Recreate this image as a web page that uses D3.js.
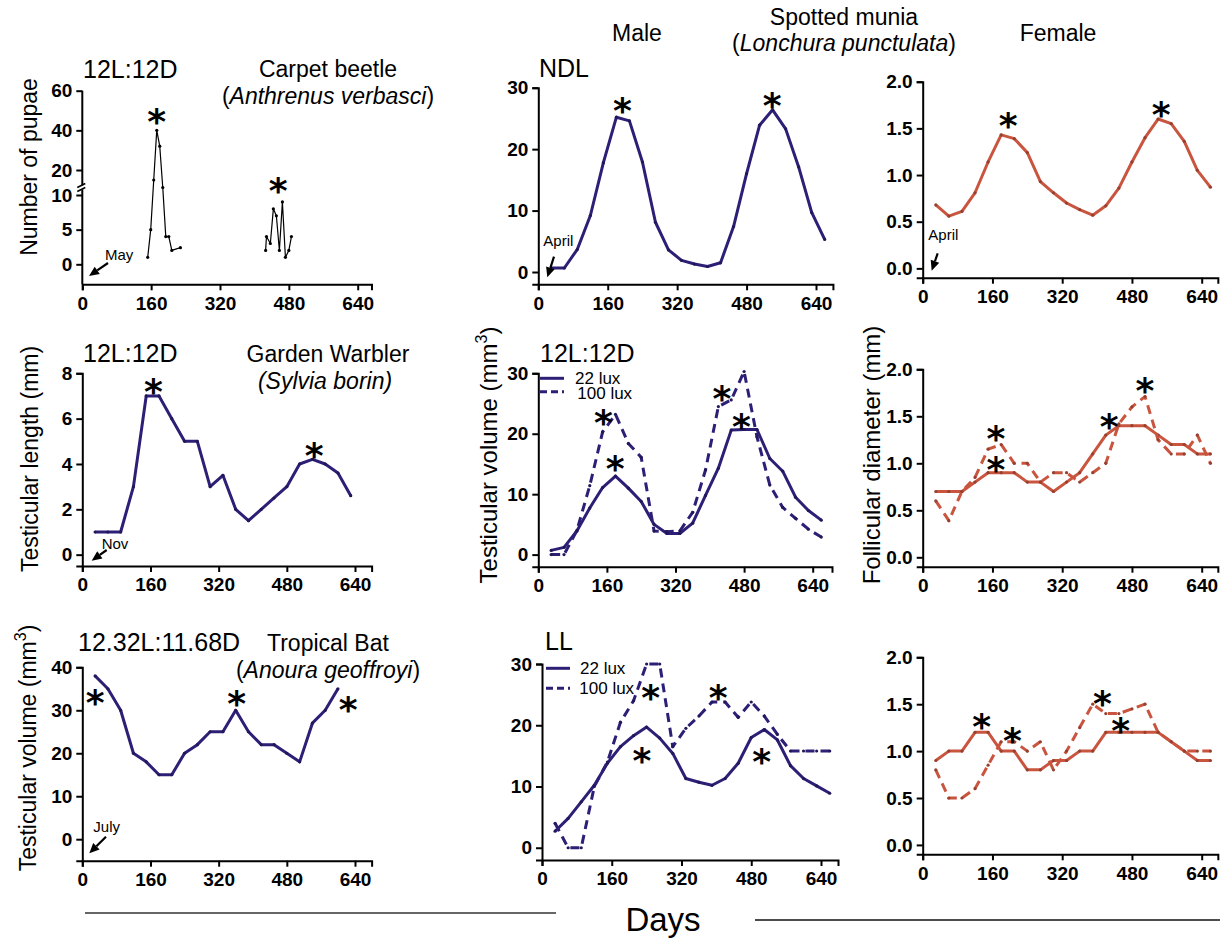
<!DOCTYPE html>
<html><head><meta charset="utf-8">
<script src="https://cdn.jsdelivr.net/npm/d3@7"></script>
<style>body{margin:0;background:#fff}</style>
</head><body>
<svg id="c" width="1225" height="940"></svg>
<script>
// ---------------- DATA ----------------
const xTickValues = [0, 160, 320, 480, 640];

// Carpet beetle (number of pupae)
const beetleDays1 = [152, 159, 166, 173, 180, 187, 194, 201, 208, 228];
const beetleVals1 = [1, 5, 16, 40, 32, 13, 4, 4, 2, 2.4];
const beetleDays2 = [426, 428, 437, 444, 451, 458, 465, 472, 480, 486];
const beetleVals2 = [2, 4, 3, 8, 7, 2, 9, 1, 2, 4];
const beetleTicks = [0, 5, 10, 20, 40, 60];

// Spotted munia sampling days
const muniaDays = [30, 60, 90, 120, 150, 180, 210, 240, 270, 300, 330, 360, 390, 420, 450, 480, 510, 540, 570, 600, 630, 660];
const maleNDL = [0.65, 0.65, 3.7, 9.2, 17.8, 25.2, 24.6, 17.9, 8.1, 3.6, 1.9, 1.3, 0.9, 1.5, 7.4, 16.0, 23.9, 26.4, 23.3, 17.1, 9.7, 5.3];
const femaleNDL = [0.68, 0.56, 0.61, 0.81, 1.14, 1.43, 1.39, 1.24, 0.93, 0.81, 0.70, 0.63, 0.57, 0.67, 0.86, 1.14, 1.40, 1.60, 1.55, 1.36, 1.05, 0.87];
const maleLD22 = [0.7, 1.2, 3.9, 7.7, 11.1, 13.0, 11.0, 8.8, 5.0, 3.5, 3.5, 5.2, 9.8, 14.3, 20.6, 20.7, 20.7, 15.9, 13.8, 9.5, 7.3, 5.7];
const maleLD100 = [0, 0, 4.0, 11.4, 20.3, 23.2, 18.4, 16.1, 3.9, 3.8, 3.9, 7.0, 14.0, 24.5, 25.6, 30.3, 19.5, 11.5, 7.8, 6.0, 4.2, 2.9];
const femaleLD22 = [0.7, 0.7, 0.7, 0.8, 0.9, 0.9, 0.9, 0.8, 0.8, 0.7, 0.8, 0.9, 1.1, 1.3, 1.4, 1.4, 1.4, 1.3, 1.2, 1.2, 1.1, 1.1];
const femaleLD100 = [0.6, 0.39, 0.7, 0.85, 1.15, 1.2, 1.0, 1.0, 0.8, 0.9, 0.9, 0.8, 0.9, 1.0, 1.42, 1.6, 1.71, 1.25, 1.1, 1.1, 1.3, 1.0];
const maleLL22 = [2.7, 4.8, 7.5, 10.2, 13.8, 16.5, 18.3, 19.7, 17.9, 15.4, 11.3, 10.7, 10.2, 11.3, 13.8, 18.0, 19.3, 17.6, 13.4, 11.3, 10.1, 8.9];
const maleLL100 = [4.0, 0, 0, 10.0, 14.0, 20.5, 24.0, 30.0, 30.0, 16.5, 19.5, 21.5, 23.8, 23.8, 21.3, 23.8, 21.5, 18.5, 15.8, 15.8, 15.8, 15.8];
const femaleLL22 = [0.9, 1.0, 1.0, 1.2, 1.2, 1.0, 1.0, 0.8, 0.8, 0.9, 0.9, 1.0, 1.0, 1.2, 1.2, 1.2, 1.2, 1.2, 1.1, 1.0, 0.9, 0.9];
const femaleLL100 = [0.8, 0.5, 0.5, 0.6, 0.85, 1.1, 1.1, 1.0, 1.1, 0.8, 1.0, 1.25, 1.5, 1.4, 1.4, 1.45, 1.5, 1.2, 1.1, 1.0, 1.0, 1.0];

// Garden warbler
const warblerDays = [30, 60, 90, 120, 150, 180, 210, 240, 270, 300, 330, 360, 390, 420, 450, 480, 510, 540, 570, 600, 630];
const warblerVals = [1.0, 1.0, 1.0, 3.0, 7.0, 7.0, 6.0, 5.0, 5.0, 3.0, 3.5, 2.0, 1.5, 2.0, 2.5, 3.0, 4.0, 4.2, 4.0, 3.6, 2.6];

// Tropical bat
const batDays = [30, 60, 90, 120, 150, 180, 210, 240, 270, 300, 330, 360, 390, 420, 450, 480, 510, 540, 570, 600];
const batVals = [38, 35, 30, 20, 18, 15, 15, 20, 22, 25, 25, 30, 25, 22, 22, 20, 18, 27, 30, 35];

// significance asterisks [day, value]
const starsBeetle = [[173, 48.6], [455, 15.3]];
const starsMaleNDL = [[194, 27.7], [539, 28.5]];
const starsFemaleNDL = [[196, 1.62], [547, 1.74]];
const starsWarbler = [[167, 7.59], [544, 4.76]];
const starsMaleLD = [[152, 23.3], [179, 15.7], [428, 27.2], [474, 22.6]];
const starsFemaleLD = [[168, 1.35], [168, 1.02], [428, 1.485], [510, 1.868]];
const starsBat = [[30, 33.8], [362, 33.6], [624, 32.2]];
const starsMaleLL = [[249, 25.9], [229, 15.7], [404, 26.0], [504, 15.5]];
const starsFemaleLL = [[135, 1.35], [206, 1.207], [412, 1.598], [454, 1.313]];

// ---------------- DRAWING ----------------
const FONT = "'Liberation Sans', Arial, Helvetica, sans-serif";
const NAVY = '#2d1f76';
const ORANGE = '#c9553f';
const svg = d3.select('#c').style('font-family', FONT);

function addText(x, y, str, opts = {}) {
  const t = svg.append('text').attr('x', x).attr('y', y)
    .attr('font-size', opts.size || 23)
    .attr('text-anchor', opts.anchor || 'start')
    .attr('fill', '#000')
    .style('font-family', FONT);
  if (opts.italic) t.attr('font-style', 'italic');
  if (opts.weight) t.attr('font-weight', opts.weight);
  return t.text(str);
}

function arrowHead(x1, y1, x2, y2, color) {
  const ang = Math.atan2(y2 - y1, x2 - x1);
  const L = 10, W = 4.5;
  const bx = x2 - L * Math.cos(ang), by = y2 - L * Math.sin(ang);
  const px = -Math.sin(ang) * W, py = Math.cos(ang) * W;
  svg.append('line').attr('x1', x1).attr('y1', y1).attr('x2', bx).attr('y2', by)
    .attr('stroke', color).attr('stroke-width', 2.2);
  svg.append('path').attr('d', `M${x2},${y2}L${bx + px},${by + py}L${bx - px},${by - py}Z`).attr('fill', color);
}

function makePanel(cfg) {
  const xEnd = cfg.x0 + (cfg.x640 - cfg.x0) * cfg.dMax / 640;
  const x = d3.scaleLinear().domain([0, cfg.dMax]).range([cfg.x0, xEnd]);
  const y = cfg.yScale || d3.scaleLinear().domain(cfg.yDomain).range(cfg.yRange);
  const yBottom = y.range()[0];
  const yTop = y.range()[y.range().length - 1];

  const gx = svg.append('g').attr('transform', `translate(0,${yBottom})`)
    .call(d3.axisBottom(x).tickValues(xTickValues).tickSizeOuter(0).tickSize(6).tickPadding(6).tickFormat(d3.format('d')));
  const gy = svg.append('g').attr('transform', `translate(${cfg.x0},0)`)
    .call(d3.axisLeft(y).tickValues(cfg.ticks).tickSizeOuter(0).tickSize(6).tickPadding(4)
      .tickFormat(cfg.fmt ? d3.format(cfg.fmt) : d3.format('d')));
  [gx, gy].forEach(g => {
    g.selectAll('path.domain').attr('stroke', '#000').attr('stroke-width', 2);
    g.selectAll('.tick line').attr('stroke', '#000').attr('stroke-width', 2);
    g.selectAll('.tick text').attr('fill', '#000').attr('font-size', 19).attr('font-weight', 'bold')
      .style('font-family', FONT);
  });
  if (cfg.breakAt) {
    // broken y axis
    gy.select('path.domain').remove();
    const [b1, b2] = cfg.breakAt;
    svg.append('line').attr('x1', cfg.x0).attr('x2', cfg.x0).attr('y1', yBottom).attr('y2', y(b1))
      .attr('stroke', '#000').attr('stroke-width', 2);
    svg.append('line').attr('x1', cfg.x0).attr('x2', cfg.x0).attr('y1', y(b2)).attr('y2', yTop)
      .attr('stroke', '#000').attr('stroke-width', 2);
    [b1, b2].forEach(v => svg.append('line').attr('x1', cfg.x0 - 5).attr('x2', cfg.x0 + 3)
      .attr('y1', y(v) + 2).attr('y2', y(v) - 2).attr('stroke', '#000').attr('stroke-width', 1.5));
  }
  return { x, y, yBottom, yTop };
}

function drawSeries(p, days, vals, color, opts = {}) {
  const data = d3.zip(days, vals);
  const line = d3.line().x(d => p.x(d[0])).y(d => p.y(d[1]));
  const path = svg.append('path').datum(data).attr('d', line)
    .attr('fill', 'none').attr('stroke', color).attr('stroke-width', opts.width || 3)
    .attr('stroke-linejoin', 'round');
  if (opts.dash) path.attr('stroke-dasharray', opts.dash);
  svg.append('g').selectAll('circle').data(data).join('circle')
    .attr('cx', d => p.x(d[0])).attr('cy', d => p.y(d[1]))
    .attr('r', opts.r || 1.6).attr('fill', opts.dot || d3.color(color).darker(0.8));
}

function drawStars(p, stars) {
  svg.append('g').selectAll('text').data(stars).join('text')
    .attr('x', d => p.x(d[0])).attr('y', d => p.y(d[1]) + 21)
    .attr('text-anchor', 'middle').attr('font-size', 36).attr('font-weight', 'bold')
    .style('font-family', "'DejaVu Sans', sans-serif").attr('fill', '#000')
    .text('*');
}

function monthArrow(p, tip, tail, label, labelPos) {
  const ox = p.x(0), oy = p.yBottom;
  arrowHead(ox + tail[0], oy + tail[1], ox + tip[0], oy + tip[1], '#000');
  addText(ox + labelPos[0], oy + labelPos[1], label, { size: 15 });
}

function legend(p, items, color) {
  items.forEach(it => {
    const l = svg.append('line').attr('x1', p.x(0) + it.lx[0]).attr('x2', p.x(0) + it.lx[1])
      .attr('y1', p.yTop + it.ly).attr('y2', p.yTop + it.ly)
      .attr('stroke', color).attr('stroke-width', 3);
    if (it.dash) l.attr('stroke-dasharray', it.dash);
    addText(p.x(0) + it.tx, p.yTop + it.ty, it.label, { size: 17 });
  });
}

// ----- Panel 1: Carpet beetle -----
const beetleY = d3.scaleLinear().domain([-3, 0, 10, 20, 60]).range([284.3, 264.3, 195, 170, 90.7]);
const p1 = makePanel({ x0: 82.3, x640: 357.7, dMax: 672, yScale: beetleY, ticks: beetleTicks, breakAt: [12.2, 13.8] });
drawSeries(p1, beetleDays1, beetleVals1, '#000', { width: 1.2, r: 1.6, dot: '#000' });
drawSeries(p1, beetleDays2, beetleVals2, '#000', { width: 1.2, r: 1.6, dot: '#000' });
drawStars(p1, starsBeetle);
monthArrow(p1, [6.7, -8.3], [25.7, -21.3], 'May', [22.7, -24.3]);
addText(83, 78, '12L:12D', { size: 25 });
addText(328, 77, 'Carpet beetle', { anchor: 'middle' });
{
  const t = addText(328, 104, '', { anchor: 'middle' });
  t.append('tspan').text('(');
  t.append('tspan').attr('font-style', 'italic').text('Anthrenus verbasci');
  t.append('tspan').text(')');
}
addText(0, 0, 'Number of pupae', { anchor: 'middle' }).attr('transform', 'translate(37,167) rotate(-90)');

// ----- Panel 2: Male NDL -----
const p2 = makePanel({ x0: 538.3, x640: 816, dMax: 679, yDomain: [-2, 30], yRange: [284.3, 87.7], ticks: [0, 10, 20, 30] });
drawSeries(p2, muniaDays, maleNDL, NAVY);
drawStars(p2, starsMaleNDL);
monthArrow(p2, [9, -7], [15.7, -27.6], 'April', [5, -38.3]);
addText(539, 77, 'NDL', { size: 25 });

// ----- Panel 3: Female NDL -----
const p3 = makePanel({ x0: 922.7, x640: 1201.7, dMax: 677, yDomain: [-0.1, 2.0], yRange: [277.7, 81.7], ticks: [0, 0.5, 1, 1.5, 2], fmt: '.1f' });
drawSeries(p3, muniaDays, femaleNDL, ORANGE);
drawStars(p3, starsFemaleNDL);
monthArrow(p3, [9, -7], [15, -24.4], 'April', [5.6, -37.7]);

// Headers
addText(637, 41, 'Male', { anchor: 'middle' });
addText(844, 25, 'Spotted munia', { anchor: 'middle' });
{
  const t = addText(844, 51, '', { anchor: 'middle' });
  t.append('tspan').text('(');
  t.append('tspan').attr('font-style', 'italic').text('Lonchura punctulata');
  t.append('tspan').text(')');
}
addText(1058, 41, 'Female', { anchor: 'middle' });

// ----- Panel 4: Garden warbler -----
const p4 = makePanel({ x0: 82.3, x640: 355, dMax: 679, yDomain: [-0.5, 8], yRange: [566, 373.3], ticks: [0, 2, 4, 6, 8] });
drawSeries(p4, warblerDays, warblerVals, NAVY);
drawStars(p4, starsWarbler);
monthArrow(p4, [9.4, -5.3], [24.4, -16], 'Nov', [19.4, -16.7]);
addText(83, 362, '12L:12D', { size: 25 });
addText(328, 362, 'Garden Warbler', { anchor: 'middle' });
addText(325, 389, '(Sylvia borin)', { anchor: 'middle', italic: true });
addText(0, 0, 'Testicular length (mm)', { anchor: 'middle' }).attr('transform', 'translate(38,459) rotate(-90)');

// ----- Panel 5: Male 12L:12D -----
const p5 = makePanel({ x0: 538.3, x640: 812.7, dMax: 685, yDomain: [-2, 30], yRange: [566.7, 373.3], ticks: [0, 10, 20, 30] });
drawSeries(p5, muniaDays, maleLD22, NAVY);
drawSeries(p5, muniaDays, maleLD100, NAVY, { dash: '9,6' });
drawStars(p5, starsMaleLD);
legend(p5, [
  { lx: [1.7, 25.7], ly: 5, tx: 36.7, ty: 10.7, label: '22 lux' },
  { lx: [1.7, 25.7], ly: 18.4, tx: 39, ty: 25.7, label: '100 lux', dash: '7,4' }
], NAVY);
addText(540, 362, '12L:12D', { size: 25 });
{
  const t = addText(0, 0, '', { anchor: 'middle', size: 24 }).attr('transform', 'translate(497,455) rotate(-90)');
  t.append('tspan').text('Testicular volume (mm');
  t.append('tspan').attr('font-size', 16).attr('dy', -10).text('3');
  t.append('tspan').attr('dy', 10).text(')');
}

// ----- Panel 6: Female 12L:12D -----
const p6 = makePanel({ x0: 922.7, x640: 1201.7, dMax: 677, yDomain: [-0.1, 2.0], yRange: [566.7, 369.3], ticks: [0, 0.5, 1, 1.5, 2], fmt: '.1f' });
drawSeries(p6, muniaDays, femaleLD22, ORANGE);
drawSeries(p6, muniaDays, femaleLD100, ORANGE, { dash: '9,6' });
drawStars(p6, starsFemaleLD);
addText(0, 0, 'Follicular diameter (mm)', { anchor: 'middle', size: 24 }).attr('transform', 'translate(880,455) rotate(-90)');

// ----- Panel 7: Tropical bat -----
const p7 = makePanel({ x0: 82.3, x640: 355, dMax: 679, yDomain: [-5, 40], yRange: [860.7, 667.3], ticks: [0, 10, 20, 30, 40] });
drawSeries(p7, batDays, batVals, NAVY);
drawStars(p7, starsBat);
monthArrow(p7, [7, -7.4], [23.7, -24], 'July', [11, -29]);
addText(78, 651, '12.32L:11.68D', { size: 25 });
addText(267, 651, 'Tropical Bat', {});
{
  const t = addText(328, 678, '', { anchor: 'middle' });
  t.append('tspan').text('(');
  t.append('tspan').attr('font-style', 'italic').text('Anoura geoffroyi');
  t.append('tspan').text(')');
}
{
  const t = addText(0, 0, '', { anchor: 'middle' }).attr('transform', 'translate(36,748) rotate(-90)');
  t.append('tspan').text('Testicular volume (mm');
  t.append('tspan').attr('font-size', 16).attr('dy', -10).text('3');
  t.append('tspan').attr('dy', 10).text(')');
}

// ----- Panel 8: Male LL -----
const p8 = makePanel({ x0: 542, x640: 821, dMax: 679, yDomain: [-2, 30], yRange: [860, 664], ticks: [0, 10, 20, 30] });
drawSeries(p8, muniaDays, maleLL22, NAVY);
drawSeries(p8, muniaDays, maleLL100, NAVY, { dash: '9,6' });
drawStars(p8, starsMaleLL);
legend(p8, [
  { lx: [4, 28], ly: 4.3, tx: 38, ty: 10, label: '22 lux' },
  { lx: [4, 28], ly: 24.3, tx: 37.3, ty: 30, label: '100 lux', dash: '7,4' }
], NAVY);
addText(545, 650, 'LL', { size: 25 });

// ----- Panel 9: Female LL -----
const p9 = makePanel({ x0: 922.7, x640: 1201.7, dMax: 677, yDomain: [-0.1, 2.0], yRange: [854.3, 657.3], ticks: [0, 0.5, 1, 1.5, 2], fmt: '.1f' });
drawSeries(p9, muniaDays, femaleLL22, ORANGE);
drawSeries(p9, muniaDays, femaleLL100, ORANGE, { dash: '9,6' });
drawStars(p9, starsFemaleLL);

// ----- Bottom "Days" -----
svg.append('line').attr('x1', 85).attr('x2', 556).attr('y1', 913).attr('y2', 913).attr('stroke', '#333').attr('stroke-width', 1.5);
svg.append('line').attr('x1', 755).attr('x2', 1220).attr('y1', 920).attr('y2', 920).attr('stroke', '#111').attr('stroke-width', 1.5);
addText(663, 931, 'Days', { anchor: 'middle', size: 33 });
</script>
</body></html>
